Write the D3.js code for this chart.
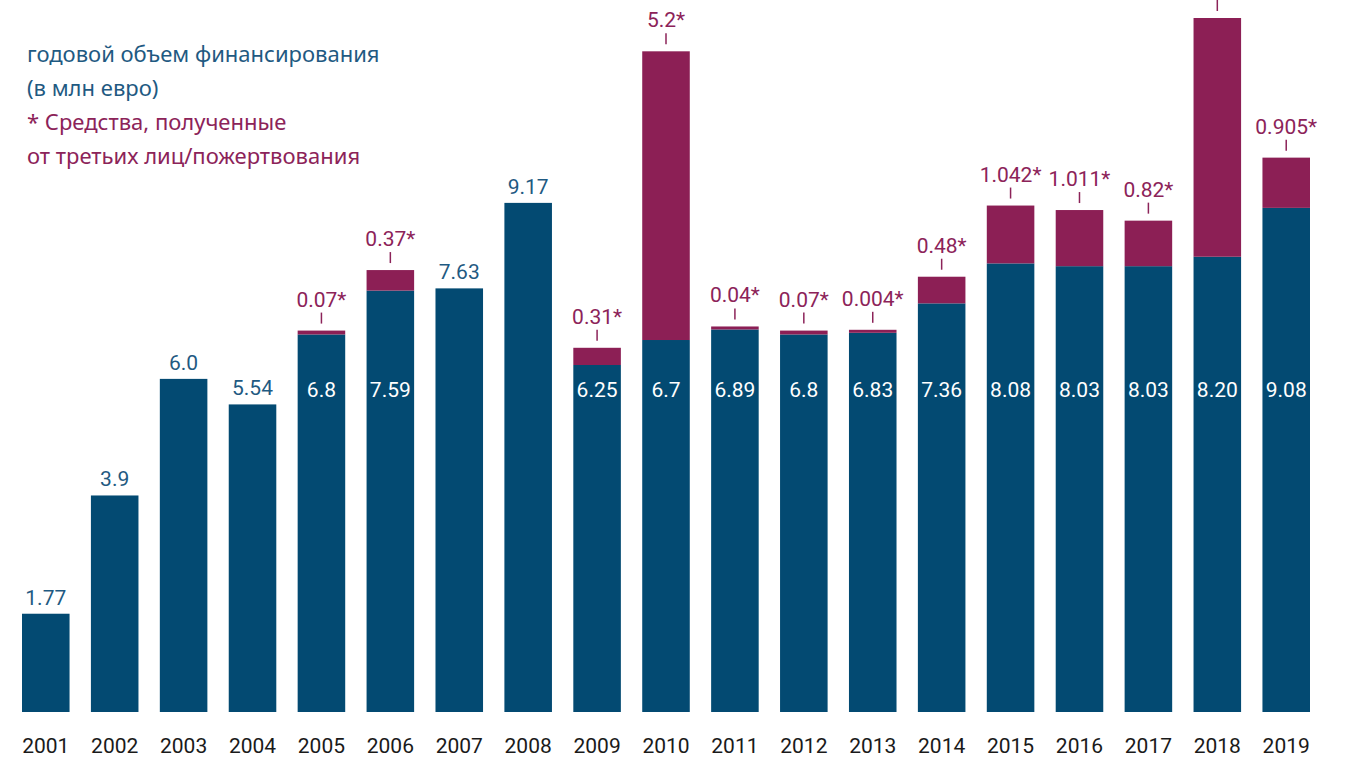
<!DOCTYPE html>
<html>
<head>
<meta charset="utf-8">
<script src="https://cdn.jsdelivr.net/npm/d3@7"></script>
<style>
  body { margin: 0; background: #fff; }
  svg { display: block; }
  .num { font-family: "Roboto", "Liberation Sans", sans-serif; }
  .legend { font-family: "Noto Sans", "DejaVu Sans", sans-serif; font-size: 22px; }
</style>
</head>
<body>
<div id="chart"></div>
<script>
var years = ["2001","2002","2003","2004","2005","2006","2007","2008","2009","2010",
             "2011","2012","2013","2014","2015","2016","2017","2018","2019"];
var baseValues = [1.77, 3.9, 6.0, 5.54, 6.8, 7.59, 7.63, 9.17, 6.25, 6.7,
                  6.89, 6.8, 6.83, 7.36, 8.08, 8.03, 8.03, 8.20, 9.08];
var baseLabels = ["1.77","3.9","6.0","5.54","6.8","7.59","7.63","9.17","6.25","6.7",
                  "6.89","6.8","6.83","7.36","8.08","8.03","8.03","8.20","9.08"];
// средства третьих лиц (null = нет)
var extraValues = [null, null, null, null, 0.07, 0.37, null, null, 0.31, 5.2,
                   0.04, 0.07, 0.004, 0.48, 1.042, 1.011, 0.82, 4.3, 0.905];
var extraLabels = [null, null, null, null, "0.07*", "0.37*", null, null, "0.31*", "5.2*",
                   "0.04*", "0.07*", "0.004*", "0.48*", "1.042*", "1.011*", "0.82*", "4.3*", "0.905*"];
var legendLines = ["годовой объем финансирования", "(в млн евро)",
                   "* Средства, полученные", "от третьих лиц/пожертвования"];

var width = 1351, height = 757;
var blue = "#034a72", plum = "#8c1f55", blueText = "#1f5a82", plumText = "#8c2359";

var data = years.map(function(y, i){
	return {year: y, base: baseValues[i], baseLabel: baseLabels[i],
	        extra: extraValues[i], extraLabel: extraLabels[i]};
});

var svg = d3.select("#chart").append("svg")
	.attr("width", width)
	.attr("height", height);

var x = d3.scaleBand().domain(years).range([22, 1310]).paddingInner(0.31).paddingOuter(0);
var y = d3.scaleLinear().domain([0, 12.5]).range([712, 18]);

function topOf(d){
	if (d.extra == null) return y(d.base);
	return y(d.base) - Math.max(3, y(0) - y(d.extra));
}
function mid(d){ return x(d.year) + x.bandwidth() / 2; }

var bars = svg.selectAll(".year")
	.data(data).enter()
	.append("g")
	.attr("class", "year");

bars.append("rect")
	.attr("fill", blue)
	.attr("x", function(d){ return x(d.year); })
	.attr("width", x.bandwidth())
	.attr("y", function(d){ return y(d.base); })
	.attr("height", function(d){ return y(0) - y(d.base); });

var stacked = bars.filter(function(d){ return d.extra != null; });

stacked.append("rect")
	.attr("fill", plum)
	.attr("x", function(d){ return x(d.year); })
	.attr("width", x.bandwidth())
	.attr("y", function(d){ return topOf(d); })
	.attr("height", function(d){ return y(d.base) - topOf(d); });

stacked.append("line")
	.attr("stroke", plumText)
	.attr("stroke-width", 1.5)
	.attr("x1", mid)
	.attr("x2", mid)
	.attr("y1", function(d){ return topOf(d) - 18; })
	.attr("y2", function(d){ return topOf(d) - 7; });

stacked.append("text")
	.attr("class", "num")
	.attr("fill", plumText)
	.attr("font-size", 21)
	.attr("text-anchor", "middle")
	.attr("x", mid)
	.attr("y", function(d){ return topOf(d) - 24; })
	.text(function(d){ return d.extraLabel; });

// base value inside the bar when stacked, above it otherwise
stacked.append("text")
	.attr("class", "num")
	.attr("fill", "#fff")
	.attr("font-size", 21)
	.attr("text-anchor", "middle")
	.attr("x", mid)
	.attr("y", 397)
	.text(function(d){ return d.baseLabel; });

bars.filter(function(d){ return d.extra == null; })
	.append("text")
	.attr("class", "num")
	.attr("fill", blueText)
	.attr("font-size", 21)
	.attr("text-anchor", "middle")
	.attr("x", mid)
	.attr("y", function(d){ return y(d.base) - 9; })
	.text(function(d){ return d.baseLabel; });

var xAxis = d3.axisBottom(x).tickSize(0).tickPadding(0);
svg.append("g")
	.attr("transform", "translate(0,738)")
	.call(xAxis)
	.call(function(g){ g.select(".domain").remove(); })
	.selectAll("text")
	.attr("class", "num")
	.attr("fill", "#1a1a1a")
	.attr("font-size", 21)
	.attr("dy", "0.71em");

svg.append("g")
	.selectAll("text")
	.data(legendLines).enter()
	.append("text")
	.attr("class", "legend")
	.attr("x", 27)
	.attr("y", function(d, i){ return 62 + i * 34; })
	.attr("fill", function(d, i){ return i < 2 ? blueText : plumText; })
	.text(function(d){ return d; });
</script>
</body>
</html>
